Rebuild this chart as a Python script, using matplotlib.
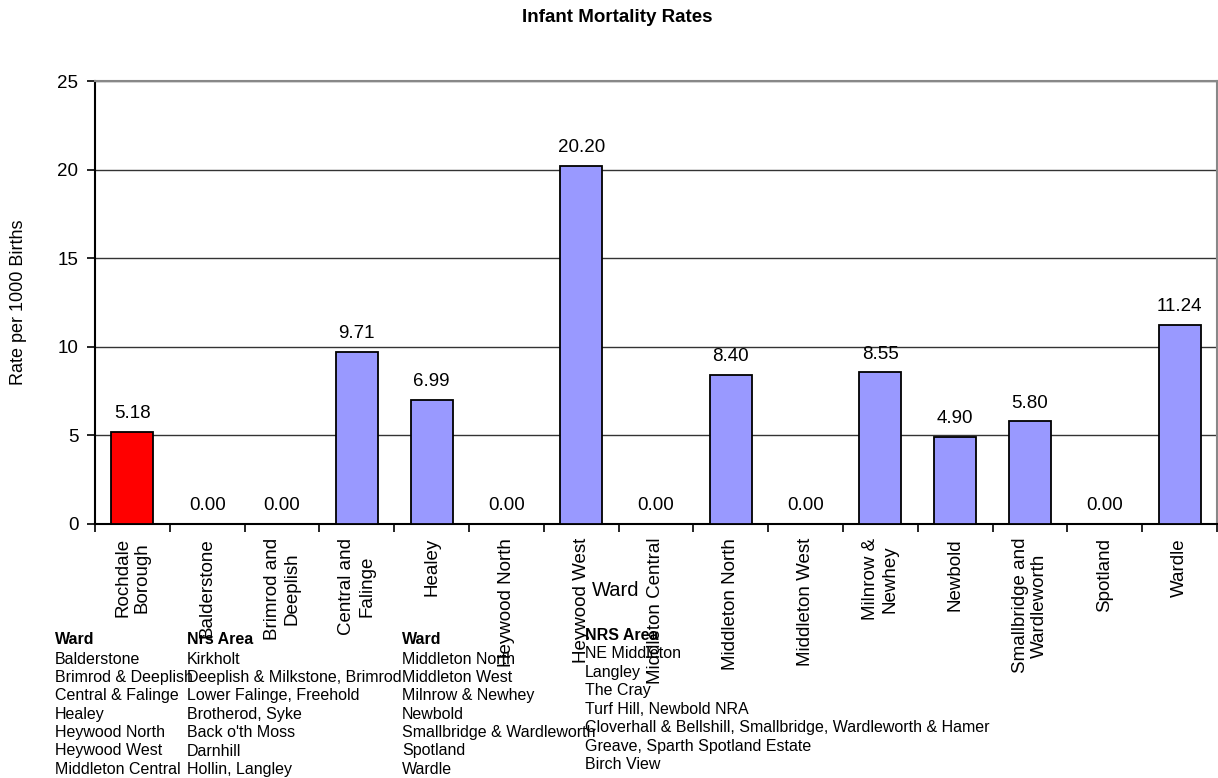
import matplotlib
matplotlib.use("Agg")
import matplotlib.pyplot as plt
import numpy as np

categorias = ["Rochdale\nBorough", "Balderstone", "Brimrod and\nDeeplish", "Central and\nFalinge",
              "Healey", "Heywood North", "Heywood West", "Middleton Central", "Middleton North",
              "Middleton West", "Milnrow &\nNewhey", "Newbold", "Smallbridge and\nWardleworth",
              "Spotland", "Wardle"]
taxas = [5.18, 0.00, 0.00, 9.71, 6.99, 0.00, 20.20, 0.00, 8.40, 0.00, 8.55, 4.90, 5.80, 0.00, 11.24]
cores = ["#ff0000"] + ["#9999ff"] * 14

ward_1 = ["Balderstone", "Brimrod & Deeplish", "Central & Falinge", "Healey",
          "Heywood North", "Heywood West", "Middleton Central"]
nrs_1 = ["Kirkholt", "Deeplish & Milkstone, Brimrod", "Lower Falinge, Freehold",
         "Brotherod, Syke", "Back o'th Moss", "Darnhill", "Hollin, Langley"]
ward_2 = ["Middleton North", "Middleton West", "Milnrow & Newhey", "Newbold",
          "Smallbridge & Wardleworth", "Spotland", "Wardle"]
nrs_2 = ["NE Middleton", "Langley", "The Cray", "Turf Hill, Newbold NRA",
         "Cloverhall & Bellshill, Smallbridge, Wardleworth & Hamer",
         "Greave, Sparth Spotland Estate", "Birch View"]

plt.rcParams.update({"font.family": ["Liberation Sans", "DejaVu Sans"], "font.size": 13.5})
W, H = 1218, 778
fig = plt.figure(figsize=(W / 100, H / 100), dpi=100)
ax = fig.add_axes([95 / W, 1 - 524 / H, (1217 - 95) / W, (524 - 81) / H])

x = np.arange(len(categorias))
ax.bar(x, taxas, width=0.56, color=cores, edgecolor="black", linewidth=1.3, zorder=3)
for xi, v in zip(x, taxas):
    ax.annotate(f"{v:.2f}", (xi, v), xytext=(0, 7), textcoords="offset points",
                ha="center", va="bottom", fontsize=13.5)

ax.set_xlim(-0.5, len(categorias) - 0.5)
ax.set_ylim(0, 25)
ax.set_yticks([0, 5, 10, 15, 20, 25])
ax.yaxis.grid(True, color="#333333", lw=1.0, zorder=0)
ax.set_axisbelow(True)
ax.tick_params(axis="y", length=6, width=1.2, labelsize=13.5, pad=6)

ax.set_xticks(x)
ax.set_xticklabels(categorias, rotation=90, ha="center", va="top",
                   multialignment="center", fontsize=13.5)
ax.tick_params(axis="x", which="major", length=0, pad=10)
ax.set_xticks(np.arange(len(categorias) + 1) - 0.5, minor=True)
ax.tick_params(axis="x", which="minor", length=6, width=1.2)

for s in ["left", "bottom"]:
    ax.spines[s].set_linewidth(1.5)
    ax.spines[s].set_color("black")
for s in ["top", "right"]:
    ax.spines[s].set_linewidth(1.5)
    ax.spines[s].set_color("#888888")

ax.set_ylabel("Rate per 1000 Births", fontsize=13, labelpad=22)
fig.text(617 / W, 1 - 18 / H, "Infant Mortality Rates", ha="center", va="center",
         fontsize=13.5, fontweight="bold")
fig.text(616 / W, 1 - 590 / H, "Ward", ha="center", va="center", fontsize=14.5)

# tabela de correspondência Ward / NRS Area
passo = 18.4
def coluna(px, py_titulo, titulo, linhas):
    fig.text(px / W, 1 - py_titulo / H, titulo, fontsize=11.5, fontweight="bold", va="center")
    for i, t in enumerate(linhas):
        fig.text(px / W, 1 - (py_titulo + 19 + i * passo) / H, t, fontsize=11.5, va="center")

coluna(55, 640, "Ward", ward_1)
coluna(187, 640, "Nrs Area", nrs_1)
coluna(402, 640, "Ward", ward_2)
coluna(585, 635, "NRS Area", nrs_2)

fig.savefig("out.png", dpi=100)
